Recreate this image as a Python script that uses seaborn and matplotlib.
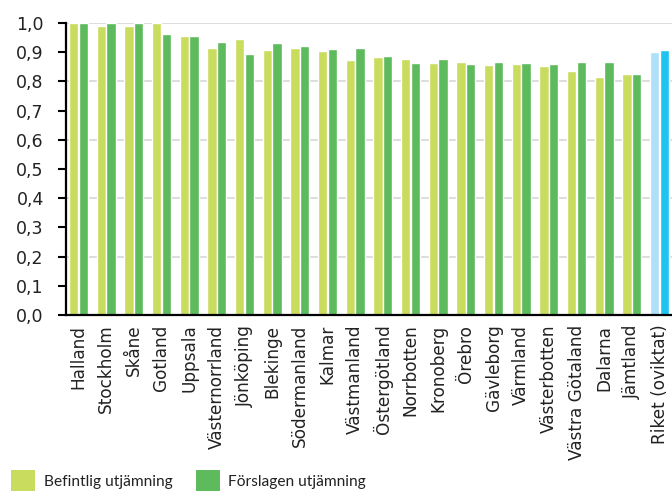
import matplotlib
matplotlib.use("Agg")
import matplotlib.pyplot as plt
import seaborn as sns
import pandas as pd
from matplotlib.patches import Rectangle

categories = ["Halland", "Stockholm", "Skåne", "Gotland", "Uppsala", "Västernorrland",
              "Jönköping", "Blekinge", "Södermanland", "Kalmar", "Västmanland",
              "Östergötland", "Norrbotten", "Kronoberg", "Örebro", "Gävleborg",
              "Värmland", "Västerbotten", "Västra Götaland", "Dalarna", "Jämtland",
              "Riket (oviktat)"]
befintlig = [1.000, 0.991, 0.991, 1.000, 0.955, 0.915, 0.945, 0.908, 0.915, 0.904, 0.873,
             0.885, 0.877, 0.862, 0.867, 0.856, 0.859, 0.854, 0.837, 0.814, 0.824, 0.901]
forslagen = [1.000, 1.000, 1.000, 0.963, 0.956, 0.936, 0.894, 0.930, 0.920, 0.911, 0.914,
             0.886, 0.863, 0.877, 0.861, 0.865, 0.862, 0.861, 0.865, 0.865, 0.825, 0.908]
series_names = ["Befintlig utjämning", "Förslagen utjämning"]
yticks = [0.0, 0.1, 0.2, 0.3, 0.4, 0.5, 0.6, 0.7, 0.8, 0.9, 1.0]
gridlines = [0.2, 0.4, 0.6, 0.8, 1.0]

c_light = "#c9dc5e"
c_green = "#5dba5d"
c_lblue = "#aee1f9"
c_blue = "#1fc3f1"

df = pd.DataFrame({
    "Län": categories * 2,
    "Värde": befintlig + forslagen,
    "Serie": [series_names[0]] * len(categories) + [series_names[1]] * len(categories),
})

sns.set_style("white")
plt.rcParams["font.family"] = ["DejaVu Sans"]

fig = plt.figure(figsize=(6.72, 4.91), dpi=100)
ax = fig.add_axes([66 / 672, 1 - 315 / 491, 1 - 66 / 672, (315 - 23) / 491])

sns.barplot(data=df, x="Län", y="Värde", hue="Serie", order=categories,
            hue_order=series_names, palette=[c_light, c_green], width=0.7,
            gap=0.04, legend=False, ax=ax, saturation=1)

n = len(categories)
bars = list(ax.patches)
bars[n - 1].set_facecolor(c_lblue)
bars[2 * n - 1].set_facecolor(c_blue)

ax.set_xlim(-0.45, n - 0.55)
ax.set_ylim(0, 1.0)
ax.set_yticks(yticks)
ax.set_yticklabels([f"{v:.1f}".replace(".", ",") for v in yticks], fontsize=12.5, color="#222222")
for g in gridlines:
    ax.axhline(g, color="#dddddd", lw=1.4, zorder=0)
ax.set_axisbelow(True)
ax.tick_params(axis="y", direction="out", length=6, width=1.5, color="black", left=True, pad=10)
ax.tick_params(axis="x", length=0, pad=7)
ax.set_xticks(range(n))
ax.set_xticklabels(categories, rotation=90, fontsize=12.2, color="#222222")
ax.set_xlabel("")
ax.set_ylabel("")
for s in ["top", "right"]:
    ax.spines[s].set_visible(False)
for s in ["left", "bottom"]:
    ax.spines[s].set_color("black")
    ax.spines[s].set_linewidth(1.6)

# legend
W, H = 672, 491
for x0, col, tx, name in [(11, c_light, 44, series_names[0]), (196, c_green, 228, series_names[1])]:
    fig.add_artist(Rectangle((x0 / W, 0), 24 / W, 21 / H, transform=fig.transFigure,
                             facecolor=col, edgecolor="none"))
    fig.text(tx / W, 5 / H, name, fontsize=11.2, color="#222222", va="baseline", ha="left",
             family=["Lato", "DejaVu Sans"])

fig.savefig("out.png", dpi=100)
